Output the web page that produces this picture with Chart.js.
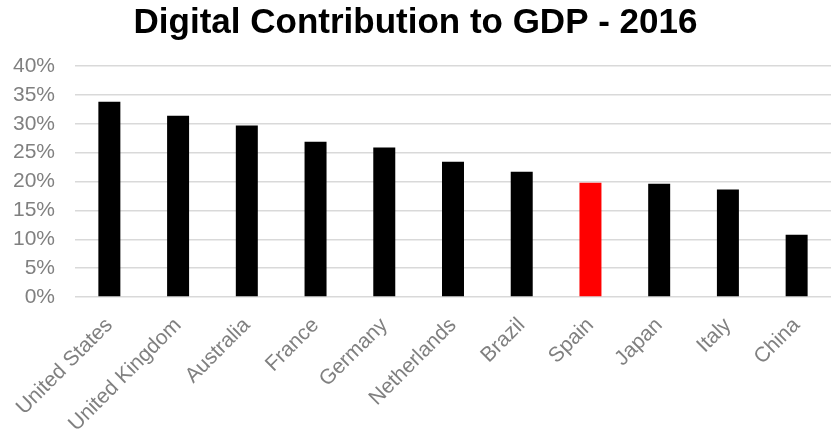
<!DOCTYPE html>
<html>
<head>
<meta charset="utf-8">
<script src="https://cdn.jsdelivr.net/npm/chart.js@4/dist/chart.umd.min.js"></script>
<style>
  html, body { margin: 0; padding: 0; background: #fff; }
  #wrap { width: 831px; height: 441px; }
</style>
</head>
<body>
<div id="wrap"><canvas id="c" width="831" height="441"></canvas></div>
<script>
const categories = ["United States", "United Kingdom", "Australia", "France", "Germany", "Netherlands", "Brazil", "Spain", "Japan", "Italy", "China"];
const values = [33.8, 31.4, 29.7, 26.9, 25.9, 23.4, 21.7, 19.8, 19.6, 18.6, 10.8];
const barColors = ["#000000", "#000000", "#000000", "#000000", "#000000", "#000000", "#000000", "#ff0000", "#000000", "#000000", "#000000"];
const yTicks = [0, 5, 10, 15, 20, 25, 30, 35, 40];
const titleText = "Digital Contribution to GDP - 2016";

new Chart(document.getElementById('c'), {
  type: 'bar',
  data: {
    labels: categories,
    datasets: [{
      data: values,
      backgroundColor: barColors,
      borderWidth: 0,
      categoryPercentage: 1,
      barPercentage: 0.32
    }]
  },
  options: {
    responsive: false,
    animation: false,
    layout: { padding: 0 },
    plugins: {
      legend: { display: false },
      tooltip: { enabled: false },
      title: {
        display: true,
        text: titleText,
        color: '#000000',
        font: { family: 'Liberation Sans', size: 35, weight: 'bold' },
        padding: { top: 2, bottom: 22 }
      }
    },
    scales: {
      x: {
        grid: { display: false, drawTicks: false },
        border: { display: false },
        ticks: {
          color: '#808080',
          font: { family: 'Liberation Sans', size: 21 },
          minRotation: 45,
          maxRotation: 45,
          autoSkip: false,
          padding: 16
        },
        afterFit: (s) => { s.height = 144; }
      },
      y: {
        min: 0,
        max: 40,
        afterBuildTicks: (s) => { s.ticks = yTicks.map(v => ({ value: v })); },
        grid: { color: '#d9d9d9', lineWidth: 1.5, drawTicks: false },
        border: { display: false },
        ticks: {
          color: '#808080',
          font: { family: 'Liberation Sans', size: 21 },
          padding: 20,
          callback: (v) => v + '%'
        },
        afterFit: (s) => { s.width = 75; }
      }
    }
  }
});
</script>
</body>
</html>
